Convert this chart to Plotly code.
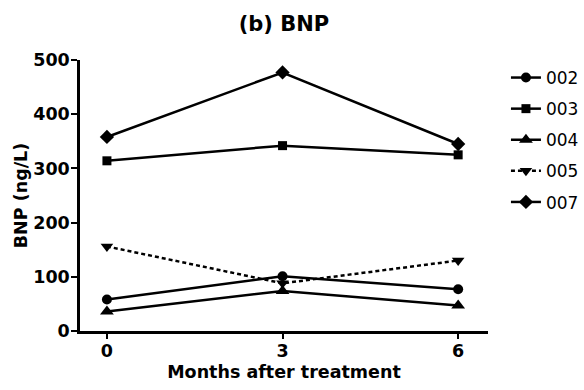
import plotly.graph_objects as go

# Follow-up time points (months after treatment)
months = [0, 3, 6]

# BNP (ng/L) per patient
patient_ids = ["002", "003", "004", "005", "007"]
bnp_002 = [58, 101, 77]
bnp_003 = [314, 342, 325]
bnp_004 = [36, 74, 47]
bnp_005 = [156, 88, 130]
bnp_007 = [358, 477, 345]

y_ticks = [0, 100, 200, 300, 400, 500]
x_ticks = [0, 3, 6]

series = [bnp_002, bnp_003, bnp_004, bnp_005, bnp_007]
symbols = ["circle", "square", "triangle-up", "triangle-down", "diamond"]
sizes = [10, 9, 12, 11, 11]
dashes = ["solid", "solid", "solid", "4px,3px", "solid"]

FONT = "DejaVu Sans, Arial, sans-serif"

fig = go.Figure()
for pid, vals, sym, sz, dash in zip(patient_ids, series, symbols, sizes, dashes):
    fig.add_trace(go.Scatter(
        x=months, y=vals, name=pid, legendgroup=pid,
        mode="lines+markers",
        line=dict(color="black", width=2.5, dash=dash),
        marker=dict(symbol=sym, size=sz, color="black"),
        cliponaxis=False,
    ))

fig.update_layout(
    width=584, height=390,
    margin=dict(l=80, r=96, t=60, b=59, autoexpand=False),
    paper_bgcolor="white", plot_bgcolor="white",
    font=dict(family=FONT, color="black"),
    title=dict(text="(b) BNP", x=0.4863, xanchor="center",
               y=0.94, yanchor="middle",
               font=dict(size=21, family=FONT, weight="bold")),
    legend=dict(x=1.044, y=1.0, xanchor="left", yanchor="top",
                font=dict(size=17, family=FONT), tracegroupgap=6,
                itemwidth=30, bgcolor="rgba(0,0,0,0)"),
    showlegend=True,
)

fig.update_xaxes(
    range=[-0.46, 6.51], tickvals=x_ticks, ticktext=[str(t) for t in x_ticks],
    automargin=False,
    showgrid=False, zeroline=False,
    showline=True, linecolor="black", linewidth=2.5,
    ticks="outside", ticklen=5, tickwidth=2, tickcolor="black",
    tickfont=dict(size=17.5, family=FONT, weight="bold"),
    ticklabelstandoff=-3,
    title=dict(text="Months after treatment",
               font=dict(size=17.5, family=FONT, weight="bold"), standoff=6),
)

fig.update_yaxes(
    range=[0, 500], tickvals=y_ticks,
    automargin=False,
    showgrid=False, zeroline=False,
    showline=True, linecolor="black", linewidth=2.5,
    ticks="outside", ticklen=6, tickwidth=2, tickcolor="black",
    tickfont=dict(size=17.5, family=FONT, weight="bold"),
    ticklabelstandoff=-2,
    title=dict(text="BNP (ng/L)",
               font=dict(size=17.5, family=FONT, weight="bold"), standoff=2),
)

fig.write_html("out.html")
